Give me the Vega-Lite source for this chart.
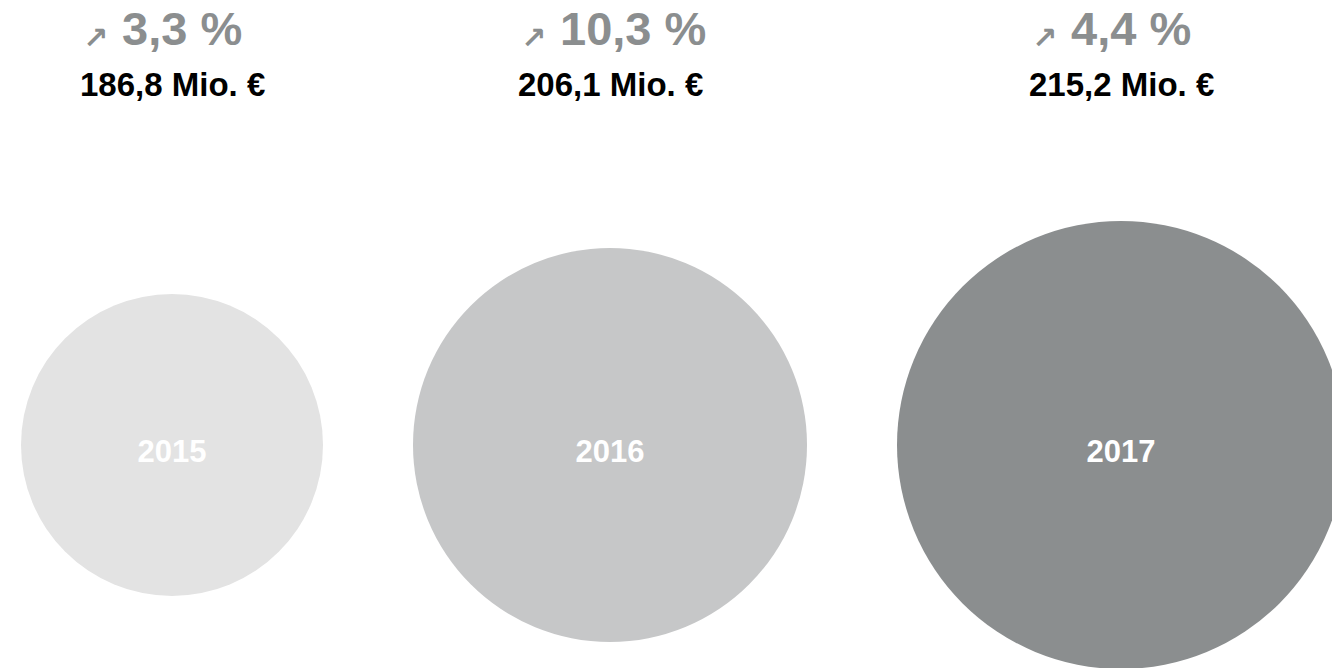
{
  "$schema": "https://vega.github.io/schema/vega-lite/v6.json",
  "width": 1332,
  "height": 446,
  "autosize": {"type": "none"},
  "padding": {"top": 222, "left": 0, "right": 0, "bottom": 0},
  "background": "white",
  "config": {"view": {"stroke": null}},
  "data": {
    "values": [
      {"year": 2015, "change": "3,3 %", "umsatz": "186,8 Mio. €"},
      {"year": 2016, "change": "10,3 %", "umsatz": "206,1 Mio. €"},
      {"year": 2017, "change": "4,4 %", "umsatz": "215,2 Mio. €"}
    ]
  },
  "encoding": {
    "x": {
      "field": "year",
      "type": "quantitative",
      "scale": {"domain": [2015, 2016, 2017], "range": [172, 610, 1121], "nice": false, "zero": false},
      "axis": null
    }
  },
  "layer": [
    {
      "mark": {"type": "circle", "opacity": 1},
      "encoding": {
        "size": {
          "field": "year",
          "type": "quantitative",
          "scale": {"domain": [2015, 2016, 2017], "range": [91204, 155236, 200704], "zero": false, "nice": false},
          "legend": null
        },
        "color": {
          "field": "year",
          "type": "nominal",
          "scale": {"range": ["#e3e3e3", "#c6c7c8", "#8b8e8f"]},
          "legend": null
        }
      }
    },
    {
      "mark": {"type": "text", "font": "Liberation Sans", "fontWeight": "bold", "fontSize": 31, "color": "#ffffff", "baseline": "alphabetic", "align": "center", "dy": 17},
      "encoding": {"text": {"field": "year", "type": "nominal"}}
    },
    {
      "mark": {"type": "text", "font": "DejaVu Sans", "fontWeight": "bold", "fontSize": 30, "color": "#8b8e8f", "baseline": "alphabetic", "align": "left", "dx": -89, "dy": -397},
      "encoding": {"text": {"value": "↗"}}
    },
    {
      "mark": {"type": "text", "font": "Liberation Sans", "fontWeight": "bold", "fontSize": 47, "color": "#8b8e8f", "baseline": "alphabetic", "align": "left", "dx": -50, "dy": -400},
      "encoding": {"text": {"field": "change", "type": "nominal"}}
    },
    {
      "mark": {"type": "text", "font": "Liberation Sans", "fontWeight": "bold", "fontSize": 33, "color": "#000000", "baseline": "alphabetic", "align": "left", "dx": -92, "dy": -349},
      "encoding": {"text": {"field": "umsatz", "type": "nominal"}}
    }
  ]
}
